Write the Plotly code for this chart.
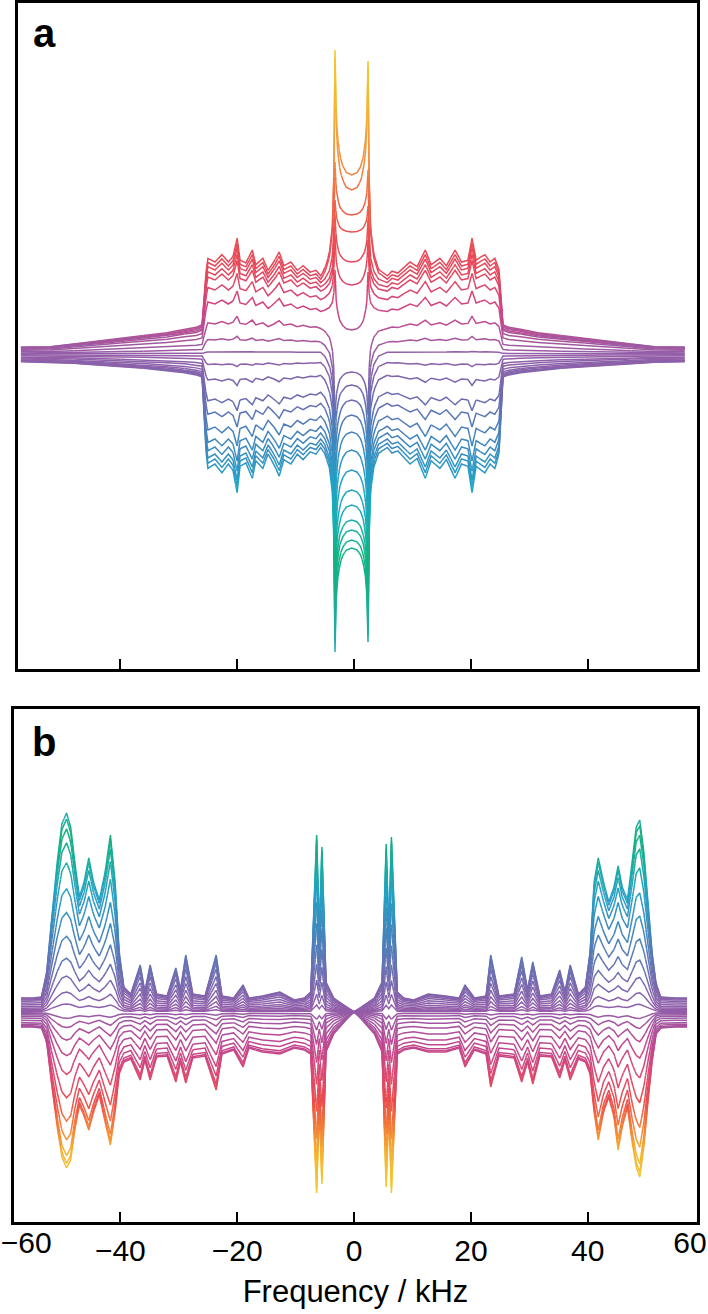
import math
import plotly.graph_objects as go

# ---------------- Panel a data (intensity in arbitrary units, baseline 0) ----------------
XA_WING_L = [-57.0, -52.0, -48.0, -44.0, -40.0, -36.0, -32.0, -29.0, -27.0, -26.0]
WING_UP_L = [0.075, 0.08, 0.11, 0.14, 0.17, 0.20, 0.23, 0.27, 0.29, 0.32]
WING_DN_L = [0.07, 0.075, 0.085, 0.10, 0.115, 0.13, 0.15, 0.17, 0.19, 0.21]
XA_WING_R = [25.5, 26.5, 28.5, 31.5, 35.5, 39.5, 43.5, 47.5, 51.5, 56.6]
WING_UP_R = [0.32, 0.29, 0.27, 0.23, 0.20, 0.17, 0.14, 0.11, 0.08, 0.075]
WING_DN_R = [0.21, 0.19, 0.17, 0.15, 0.13, 0.115, 0.10, 0.085, 0.075, 0.07]

XA_PLAT_L = [-25.3, -25.0, -23.8, -22.6, -21.5, -20.7, -20.0, -19.5, -18.5, -17.4, -16.8,
             -15.6, -14.7, -13.7, -12.8, -12.0, -10.8, -9.7, -8.7, -7.5, -6.5, -5.7]
PLAT_L = [0.90, 1.04, 1.00, 1.08, 1.00, 1.06, 1.26, 1.02, 0.99, 1.13, 0.97,
          1.04, 0.91, 1.00, 1.11, 0.96, 1.00, 0.91, 0.96, 0.89, 0.91, 0.85]
XA_PLAT_R = [5.7, 6.5, 7.5, 8.7, 9.6, 10.8, 12.2, 13.2, 14.7, 15.8, 17.3, 18.4, 19.5,
             20.2, 20.9, 21.6, 22.4, 23.3, 24.1, 24.8]
PLAT_R = [0.85, 0.90, 0.88, 0.95, 1.00, 0.95, 1.13, 0.97, 1.04, 0.96, 1.13, 1.00, 1.02,
          1.26, 1.02, 1.05, 1.08, 1.00, 1.04, 0.92]
PLAT_EDGE = 0.85

XA_CENTER = [-5.0, -4.2, -3.7, -3.45, -3.25, -3.05, -2.8, -2.4, -1.9, -1.3, -0.4,
             0.5, 1.1, 1.55, 1.95, 2.2, 2.4, 2.6, 2.85, 3.4, 4.2]
W_PEAK = [0.03, 0.10, 0.22, 0.45, 1.0, 0.5, 0.3, 0.15, 0.07, 0.02, 0.0,
          0.02, 0.07, 0.15, 0.3, 0.5, 1.0, 0.45, 0.22, 0.10, 0.03]
W_DIP = [0, 0, 0, 0, 0, 0.5, 0.7, 0.85, 0.93, 0.98, 1.0,
         0.98, 0.93, 0.85, 0.7, 0.5, 0, 0, 0, 0, 0]
CENTER_MID = -0.4

AMP_A = [92, 88, 84, 79, 74, 64, 50, 30, 14, 2, -10, -25, -45, -58, -73, -85, -93, -100, -105, -110]
PEAK_L_A = [304, 296, 192, 154, 139, 119, 84, -66, -96, -126, -151, -176, -201, -221, -236, -251,
            -261, -271, -286, -298]
PEAK_R_A = [293, 286, 184, 148, 134, 114, 82, -61, -91, -121, -146, -171, -194, -214, -228, -242,
            -252, -262, -276, -288]
DIP_A = [179, 164, 139, 122, 92, 69, 24, -18, -31, -46, -61, -78, -96, -116, -136, -151,
         -166, -176, -186, -194]

# ---------------- Panel b data ----------------
XB = [-57.0, -55.0, -53.5, -52.6, -51.8, -50.8, -50.0, -49.2, -48.5, -47.8,
      -47.0, -46.2, -45.4, -44.6, -43.6, -42.6, -41.7, -40.9, -40.2, -39.4,
      -38.2, -36.6, -35.8, -34.9, -33.8, -32.0, -30.5, -29.7, -28.8, -27.6,
      -25.5, -23.6, -22.6, -20.6, -19.0, -18.0, -15.7, -12.7, -10.2, -8.5,
      -7.4, -6.4, -5.95, -5.5, -4.8, -3.5, -2.0, -0.8, 0.0,
      0.8, 2.0, 3.5, 4.8, 5.5, 5.95, 6.4, 7.4, 8.5, 10.2,
      12.7, 15.7, 18.0, 19.0, 20.6, 22.6, 23.4, 24.8, 27.4, 28.7,
      29.7, 30.6, 31.8, 33.8, 35.2, 36.1, 37.0, 38.4, 39.6, 40.4,
      41.1, 41.8, 42.7, 43.6, 44.5, 45.2, 45.9, 46.8, 47.6, 48.3,
      48.9, 49.6, 50.3, 51.0, 51.7, 52.5, 55.0, 57.0]
POS_B = [14, 14, 15, 40, 90, 150, 188, 199, 185, 150,
         115, 130, 154, 130, 112, 140, 177, 130, 60, 25,
         18, 47, 20, 47, 18, 16, 44, 22, 57, 18,
         16, 57, 16, 14, 27, 14, 16, 20, 12, 14,
         20, 177, 80, 165, 30, 14, 8, 3, 0,
         3, 8, 14, 30, 168, 80, 175, 20, 14, 12,
         18, 16, 14, 27, 14, 16, 57, 16, 18, 55,
         22, 50, 16, 18, 42, 20, 47, 18, 25, 60,
         130, 154, 130, 110, 125, 146, 125, 112, 150, 185,
         192, 160, 110, 60, 28, 15, 14, 14]
NEG_B = [15, 15, 16, 30, 70, 115, 145, 156, 148, 118,
         93, 104, 118, 100, 83, 110, 133, 100, 62, 50,
         47, 68, 48, 68, 45, 44, 70, 50, 71, 46,
         44, 78, 42, 38, 55, 36, 40, 42, 36, 38,
         42, 181, 95, 172, 40, 22, 12, 4, 0,
         4, 12, 22, 40, 175, 95, 181, 42, 38, 36,
         40, 40, 36, 55, 38, 42, 75, 44, 46, 70,
         50, 72, 44, 45, 66, 48, 68, 47, 50, 62,
         100, 128, 100, 85, 105, 138, 115, 95, 130, 155,
         165, 135, 90, 50, 22, 16, 15, 15]
AMP_B = [1.0, 0.97, 0.92, 0.85, 0.75, 0.62, 0.5, 0.38, 0.27, 0.18, 0.1, 0.04,
         -0.04, -0.1, -0.18, -0.28, -0.4, -0.55, -0.7, -0.82, -0.92, -0.97, -1.0]

TICKS = [-40, -20, 0, 20, 40]
EDGE_TICK_TEXT = ["\u221260", "60"]

STOPS_A = [(304, '#f4c92e'), (250, '#f5b630'), (200, '#f4923a'), (160, '#f06c44'),
           (120, '#ea4f50'), (80, '#e4465c'), (45, '#cf4485'), (0, '#955ea8'),
           (-46, '#6a6db2'), (-86, '#3f86bd'), (-126, '#22a0c6'), (-166, '#18aeb4'),
           (-201, '#12b384'), (-236, '#16b08c'), (-298, '#22a8b8')]
STOPS_B = [(200, '#22aab4'), (177, '#14b07c'), (147, '#18aca0'), (117, '#25a0c4'),
           (82, '#3f88bd'), (42, '#6a70b2'), (0, '#955ca8'), (-33, '#c0468f'),
           (-63, '#dc4870'), (-88, '#ea4c4c'), (-113, '#f27a38'), (-138, '#f5b030'),
           (-165, '#f2c630'), (-181, '#f2c630')]

assert len(XA_PLAT_L) == len(PLAT_L) and len(XA_PLAT_R) == len(PLAT_R)
assert len(XA_CENTER) == len(W_PEAK) == len(W_DIP)
assert len(XB) == len(POS_B) == len(NEG_B)

# ---------------- build spectra ----------------
curves_a_x, curves_a_y = [], []
for k, A in enumerate(AMP_A):
    wl = WING_UP_L if A >= 0 else WING_DN_L
    wr = WING_UP_R if A >= 0 else WING_DN_R
    xs = XA_WING_L + XA_PLAT_L + XA_CENTER + XA_PLAT_R + XA_WING_R
    ys = [A * w for w in wl] + [A * p for p in PLAT_L]
    for i, xc in enumerate(XA_CENTER):
        pk = PEAK_L_A[k] if xc < CENTER_MID else PEAK_R_A[k]
        wp, wd = W_PEAK[i], W_DIP[i]
        ys.append(wp * pk + wd * DIP_A[k] + (1 - wp - wd) * A * PLAT_EDGE)
    ys += [A * p for p in PLAT_R] + [A * w for w in wr]
    curves_a_x.append(xs)
    curves_a_y.append(ys)

curves_b_x, curves_b_y = [], []
for a in AMP_B:
    shape = POS_B if a > 0 else NEG_B
    curves_b_x.append(XB)
    curves_b_y.append([a * s for s in shape])


def hex_rgb(h):
    return tuple(int(h[i:i + 2], 16) for i in (1, 3, 5))


def color_at(v, stops):
    s = sorted(stops)
    if v <= s[0][0]:
        return 'rgb(%d,%d,%d)' % hex_rgb(s[0][1])
    for (v0, c0), (v1, c1) in zip(s[:-1], s[1:]):
        if v <= v1:
            t = (v - v0) / (v1 - v0) if v1 != v0 else 0
            a, b = hex_rgb(c0), hex_rgb(c1)
            return 'rgb(%d,%d,%d)' % tuple(round(a[j] + (b[j] - a[j]) * t) for j in range(3))
    return 'rgb(%d,%d,%d)' % hex_rgb(s[-1][1])


def add_gradient_lines(fig, cx, cy, stops, xa, ya, nbins=72, step=3.0, width=1.5):
    vals = [s[0] for s in stops]
    vmin, vmax = min(vals), max(vals)
    bx = [[] for _ in range(nbins)]
    by = [[] for _ in range(nbins)]

    def bin_of(v):
        b = int((v - vmin) / (vmax - vmin) * nbins)
        return min(max(b, 0), nbins - 1)

    for xs, ys in zip(cx, cy):
        # split straight segments into short pieces (same geometry) so the colour can vary
        px, py = [xs[0]], [ys[0]]
        for i in range(len(xs) - 1):
            n = max(1, int(math.ceil(abs(ys[i + 1] - ys[i]) / step)))
            for j in range(1, n + 1):
                t = j / n
                px.append(xs[i] + (xs[i + 1] - xs[i]) * t)
                py.append(ys[i] + (ys[i + 1] - ys[i]) * t)
        rx, ry = [px[0]], [py[0]]
        cur = bin_of((py[0] + py[1]) / 2)
        for i in range(len(px) - 1):
            b = bin_of((py[i] + py[i + 1]) / 2)
            if b != cur:
                bx[cur] += rx + [None]
                by[cur] += ry + [None]
                rx, ry, cur = [px[i]], [py[i]], b
            rx.append(px[i + 1])
            ry.append(py[i + 1])
        bx[cur] += rx + [None]
        by[cur] += ry + [None]

    for b in range(nbins):
        if bx[b]:
            v = vmin + (b + 0.5) * (vmax - vmin) / nbins
            fig.add_trace(go.Scatter(x=bx[b], y=by[b], mode='lines',
                                     line=dict(color=color_at(v, stops), width=width),
                                     xaxis=xa, yaxis=ya, hoverinfo='skip', showlegend=False))


fig = go.Figure()
add_gradient_lines(fig, curves_a_x, curves_a_y, STOPS_A, 'x', 'y')
add_gradient_lines(fig, curves_b_x, curves_b_y, STOPS_B, 'x2', 'y2')
fig.add_trace(go.Scatter(x=[None], y=[None], xaxis='x3', yaxis='y2', showlegend=False,
                         hoverinfo='skip'))

W, H = 708, 1314
FONT = "Liberation Sans, Arial, sans-serif"
frame = dict(showline=True, mirror=True, linewidth=3, linecolor='black',
             showgrid=False, zeroline=False, automargin=False)

XR_A = [-57.5, 58.7]
XR_B = [-58.2, 58.7]

fig.update_layout(
    width=W, height=H, margin=dict(l=0, r=0, t=0, b=0, pad=0),
    plot_bgcolor='white', paper_bgcolor='white', showlegend=False,
    font=dict(family=FONT, color='black'),
    xaxis=dict(domain=[18 / W, 697 / W], range=XR_A, anchor='y', tickvals=TICKS,
               ticks='inside', ticklen=10, tickwidth=2, tickcolor='black',
               showticklabels=False, **frame),
    yaxis=dict(domain=[1 - 669 / H, 1 - 3 / H], range=[-315, 351], anchor='x',
               showticklabels=False, ticks='', **frame),
    xaxis2=dict(domain=[14 / W, 697 / W], range=XR_B, anchor='y2', tickvals=TICKS,
                ticks='inside', ticklen=10, tickwidth=2, tickcolor='black',
                tickfont=dict(size=30, family=FONT, color='black'),
                title=dict(text='Frequency / kHz', font=dict(size=31, family=FONT, color='black'),
                           standoff=15),
                **frame),
    xaxis3=dict(domain=[14 / W, 697 / W], range=XR_B, anchor='y2', overlaying='x2',
                tickvals=[-56.1, 57.5], ticktext=EDGE_TICK_TEXT, ticks='',
                tickfont=dict(size=30, family=FONT, color='black'),
                showline=False, showgrid=False, zeroline=False, automargin=False),
    yaxis2=dict(domain=[1 - 1222 / H, 1 - 709 / H], range=[-210, 303], anchor='x2',
                showticklabels=False, ticks='', **frame),
    annotations=[
        dict(text='<b>a</b>', x=44 / W, y=1 - 33 / H, xref='paper', yref='paper',
             showarrow=False, font=dict(size=40, family=FONT, color='black'),
             xanchor='center', yanchor='middle'),
        dict(text='<b>b</b>', x=44 / W, y=1 - 742 / H, xref='paper', yref='paper',
             showarrow=False, font=dict(size=40, family=FONT, color='black'),
             xanchor='center', yanchor='middle'),
    ],
)

# remove the browser's default 8px page margin so the figure fills the window exactly
fig.write_html("out.html", config={'displayModeBar': False},
               post_script="document.body.style.margin='0';")
